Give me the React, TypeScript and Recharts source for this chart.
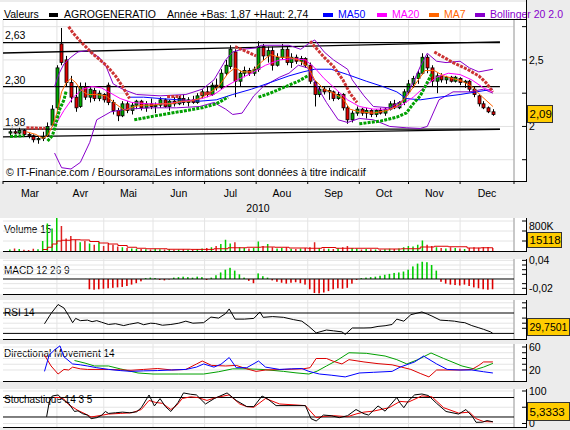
import { ComposedChart, Line, Bar, XAxis, YAxis, ReferenceLine, CartesianGrid } from "recharts"

// x axis = trading day index, 0 = 1 March 2010, 218 = 1 January 2011
const MONTHS = ["Mar", "Avr", "Mai", "Jun", "Jul", "Aou", "Sep", "Oct", "Nov", "Dec"]
const MONTH_STARTS = [0, 23, 43, 64, 86, 108, 130, 152, 173, 195, 218]
const MONTH_MIDS = MONTHS.map((_, i) => (MONTH_STARTS[i] + MONTH_STARTS[i + 1]) / 2)
const X_DOMAIN: [number, number] = [0, 218]

// one candle every second trading day, starting at day 3: [open, high, low, close]
const CANDLE_START = 3
const CANDLES = [
  [1.95, 1.98, 1.93, 1.96], [1.96, 1.98, 1.94, 1.95], [1.95, 1.99, 1.94, 1.97], [1.97, 1.98, 1.93, 1.94], [1.94, 1.95, 1.91, 1.93],
  [1.93, 1.94, 1.88, 1.9], [1.9, 1.92, 1.87, 1.91], [1.91, 1.96, 1.89, 1.92], [1.93, 2.03, 1.92, 2.0], [2.01, 2.16, 2.0, 2.13],
  [2.14, 2.46, 2.12, 2.44], [2.62, 2.74, 2.46, 2.48], [2.5, 2.53, 2.3, 2.33], [2.33, 2.38, 2.18, 2.22], [2.22, 2.3, 2.11, 2.14],
  [2.15, 2.33, 2.14, 2.3], [2.3, 2.33, 2.2, 2.22], [2.22, 2.3, 2.18, 2.28], [2.27, 2.29, 2.19, 2.21], [2.21, 2.27, 2.19, 2.25],
  [2.24, 2.25, 2.18, 2.2], [2.31, 2.33, 2.16, 2.18], [2.18, 2.2, 2.09, 2.12], [2.12, 2.14, 2.04, 2.08], [2.08, 2.19, 2.07, 2.17],
  [2.17, 2.19, 2.1, 2.12], [2.12, 2.18, 2.09, 2.16], [2.16, 2.2, 2.13, 2.19], [2.19, 2.2, 2.12, 2.14], [2.14, 2.19, 2.11, 2.17],
  [2.17, 2.21, 2.13, 2.15], [2.15, 2.18, 2.1, 2.16], [2.16, 2.22, 2.14, 2.2], [2.2, 2.21, 2.14, 2.15], [2.15, 2.2, 2.12, 2.19],
  [2.19, 2.22, 2.15, 2.17], [2.17, 2.23, 2.16, 2.21], [2.21, 2.24, 2.16, 2.18], [2.18, 2.22, 2.15, 2.2], [2.2, 2.23, 2.17, 2.18],
  [2.18, 2.25, 2.17, 2.23], [2.23, 2.28, 2.21, 2.26], [2.26, 2.3, 2.22, 2.24], [2.24, 2.33, 2.23, 2.31], [2.31, 2.36, 2.27, 2.29],
  [2.29, 2.43, 2.28, 2.4], [2.4, 2.5, 2.38, 2.46], [2.45, 2.61, 2.43, 2.58], [2.56, 2.58, 2.22, 2.34], [2.34, 2.42, 2.3, 2.4],
  [2.4, 2.45, 2.37, 2.42], [2.42, 2.44, 2.38, 2.4], [2.4, 2.45, 2.38, 2.43], [2.43, 2.64, 2.41, 2.6], [2.6, 2.62, 2.5, 2.53],
  [2.53, 2.6, 2.48, 2.57], [2.57, 2.6, 2.42, 2.46], [2.46, 2.55, 2.45, 2.52], [2.52, 2.62, 2.5, 2.58], [2.58, 2.6, 2.46, 2.48],
  [2.48, 2.55, 2.44, 2.52], [2.52, 2.54, 2.47, 2.49], [2.49, 2.53, 2.46, 2.51], [2.51, 2.52, 2.44, 2.46], [2.46, 2.48, 2.32, 2.34],
  [2.33, 2.34, 2.15, 2.24], [2.24, 2.3, 2.22, 2.28], [2.28, 2.3, 2.24, 2.26], [2.26, 2.29, 2.2, 2.27], [2.26, 2.27, 2.19, 2.21],
  [2.21, 2.26, 2.2, 2.24], [2.24, 2.25, 2.12, 2.14], [2.14, 2.16, 2.02, 2.05], [2.05, 2.12, 2.03, 2.1], [2.1, 2.15, 2.08, 2.13],
  [2.13, 2.14, 2.08, 2.1], [2.1, 2.14, 2.06, 2.12], [2.12, 2.13, 2.07, 2.09], [2.09, 2.13, 2.07, 2.12], [2.12, 2.14, 2.09, 2.1],
  [2.1, 2.14, 2.08, 2.13], [2.13, 2.19, 2.12, 2.17], [2.17, 2.2, 2.13, 2.14], [2.14, 2.19, 2.13, 2.18], [2.18, 2.28, 2.16, 2.26],
  [2.26, 2.35, 2.24, 2.32], [2.32, 2.38, 2.29, 2.36], [2.36, 2.42, 2.32, 2.4], [2.4, 2.55, 2.39, 2.52], [2.52, 2.54, 2.4, 2.44],
  [2.44, 2.46, 2.3, 2.34], [2.34, 2.4, 2.25, 2.38], [2.38, 2.4, 2.33, 2.35], [2.35, 2.38, 2.32, 2.37], [2.37, 2.38, 2.33, 2.34],
  [2.34, 2.38, 2.33, 2.37], [2.36, 2.37, 2.31, 2.33], [2.33, 2.35, 2.29, 2.34], [2.34, 2.35, 2.26, 2.28], [2.28, 2.3, 2.22, 2.24],
  [2.23, 2.24, 2.15, 2.17], [2.17, 2.19, 2.13, 2.14], [2.14, 2.15, 2.1, 2.11], [2.11, 2.13, 2.08, 2.09],
]

// volume in thousands, same days as the candles
const VOLUME = [
  60, 100, 80, 50, 40, 90, 70, 400, 1100, 900,
  1500, 1000, 500, 600, 450, 350, 400, 300, 250, 350,
  200, 300, 250, 180, 150, 120, 100, 90, 80, 70,
  60, 90, 70, 60, 80, 50, 60, 70, 60, 50,
  80, 100, 120, 150, 200, 280, 450, 300, 350, 150,
  120, 100, 120, 380, 200, 280, 150, 100, 120, 150,
  90, 80, 100, 120, 150, 350, 120, 100, 90, 80,
  120, 150, 200, 120, 100, 60, 80, 70, 60, 50,
  70, 90, 80, 100, 150, 200, 180, 250, 420, 250,
  200, 150, 120, 100, 150, 120, 100, 80, 120, 150,
  130, 150, 160, 120,
]
const VOLUME_MA15 = [
  [17, 60], [19, 150], [21, 280], [23, 400], [25, 430], [29, 450], [33, 440], [37, 380], [41, 320], [45, 280],
  [49, 220], [53, 150], [57, 110], [61, 90], [70, 70], [80, 65], [90, 90], [96, 130], [104, 150], [110, 160],
  [116, 150], [122, 120], [130, 110], [136, 140], [142, 110], [150, 110], [160, 80], [170, 90], [178, 160],
  [184, 190], [190, 170], [198, 120], [204, 130], [209, 130],
]

const MA7 = [
  [10, 1.96], [14, 1.94], [17, 1.91], [19, 1.93], [21, 2.0], [23, 2.1], [25, 2.26], [27, 2.33], [29, 2.36], [31, 2.33],
  [33, 2.28], [36, 2.24], [40, 2.24], [44, 2.23], [48, 2.17], [52, 2.12], [56, 2.15], [60, 2.16], [64, 2.16], [68, 2.17],
  [72, 2.17], [76, 2.19], [80, 2.19], [84, 2.21], [88, 2.25], [92, 2.3], [96, 2.4], [99, 2.44], [102, 2.41], [106, 2.41],
  [110, 2.48], [114, 2.54], [118, 2.52], [122, 2.52], [126, 2.5], [130, 2.45], [133, 2.35], [137, 2.28], [141, 2.25],
  [145, 2.21], [148, 2.13], [152, 2.11], [158, 2.1], [164, 2.12], [168, 2.15], [172, 2.22], [176, 2.32], [180, 2.42],
  [184, 2.42], [188, 2.38], [192, 2.36], [196, 2.34], [200, 2.3], [204, 2.23], [209, 2.15],
]
const MA20 = [
  [22, 2.0], [26, 2.12], [30, 2.22], [34, 2.28], [38, 2.3], [42, 2.29], [46, 2.25], [50, 2.21], [55, 2.18], [62, 2.17],
  [70, 2.17], [78, 2.19], [85, 2.21], [90, 2.24], [95, 2.3], [100, 2.35], [106, 2.4], [112, 2.46], [118, 2.5], [124, 2.51],
  [129, 2.5], [133, 2.44], [137, 2.36], [142, 2.28], [147, 2.2], [152, 2.15], [158, 2.13], [165, 2.13], [170, 2.16],
  [175, 2.22], [180, 2.3], [185, 2.37], [190, 2.4], [195, 2.39], [200, 2.35], [205, 2.29], [209, 2.26],
]
const MA50 = [
  [54, 2.22], [60, 2.22], [67, 2.21], [75, 2.2], [84, 2.19], [91, 2.2], [98, 2.24], [106, 2.28], [114, 2.33], [122, 2.38],
  [128, 2.41], [133, 2.43], [140, 2.43], [147, 2.39], [155, 2.34], [162, 2.3], [168, 2.26], [172, 2.21], [178, 2.2],
  [186, 2.22], [195, 2.24], [202, 2.26], [209, 2.28],
]
const BB_UPPER = [
  [22, 2.3], [24, 2.4], [26, 2.47], [29, 2.52], [32, 2.56], [36, 2.57], [41, 2.52], [44, 2.45], [47, 2.32], [51, 2.28],
  [57, 2.24], [67, 2.23], [78, 2.24], [85, 2.28], [90, 2.35], [95, 2.5], [98, 2.56], [102, 2.58], [108, 2.59], [110, 2.61],
  [122, 2.61], [127, 2.58], [131, 2.63], [133, 2.65], [137, 2.56], [141, 2.5], [147, 2.43], [149, 2.35], [154, 2.23],
  [158, 2.15], [165, 2.14], [171, 2.2], [175, 2.33], [178, 2.45], [181, 2.55], [185, 2.49], [189, 2.48], [195, 2.49],
  [199, 2.44], [203, 2.41], [209, 2.43],
]
const BB_LOWER = [
  [22, 1.8], [25, 1.69], [29, 1.68], [33, 1.73], [37, 1.88], [40, 2.05], [46, 2.11], [53, 2.13], [63, 2.14], [74, 2.14],
  [84, 2.15], [90, 2.18], [95, 2.13], [98, 2.09], [102, 2.1], [107, 2.23], [111, 2.3], [118, 2.37], [122, 2.4], [126, 2.46],
  [130, 2.44], [134, 2.3], [138, 2.18], [143, 2.05], [147, 2.03], [152, 2.06], [158, 2.05], [165, 2.0], [172, 1.99],
  [178, 1.985], [181, 2.0], [186, 2.2], [192, 2.26], [199, 2.26], [205, 2.28], [209, 2.25],
]
// parabolic SAR runs, up = dots below price (green)
const SAR_RUNS = [
  { up: true, pts: [[3, 1.925], [9, 1.93]] },
  { up: false, pts: [[10, 1.99], [18, 1.985]] },
  { up: true, pts: [[19, 1.89], [21, 1.93], [22, 1.98], [24, 2.12], [26, 2.2], [27, 2.27]] },
  { up: false, pts: [[28, 2.75], [30, 2.7], [33, 2.64], [38, 2.55], [44, 2.46], [48, 2.38], [51, 2.3], [54, 2.21]] },
  { up: true, pts: [[56, 2.05], [65, 2.08], [75, 2.11], [85, 2.14], [91, 2.17], [96, 2.22]] },
  { up: false, pts: [[70, 2.225], [76, 2.225]] },
  { up: false, pts: [[84, 2.245], [89, 2.25]] },
  { up: false, pts: [[99, 2.6], [103, 2.57], [108, 2.53]] },
  { up: true, pts: [[109, 2.22], [114, 2.25], [118, 2.28], [122, 2.31], [126, 2.34], [130, 2.38]] },
  { up: false, pts: [[131, 2.64], [134, 2.58], [137, 2.52], [141, 2.45], [145, 2.35], [148, 2.25], [151, 2.18]] },
  { up: true, pts: [[152, 2.02], [161, 2.04], [168, 2.07], [172, 2.1], [175, 2.17], [178, 2.23], [181, 2.33], [183, 2.4]] },
  { up: false, pts: [[184, 2.56], [192, 2.48], [198, 2.43], [203, 2.38], [206, 2.33], [209, 2.26]] },
]
// support / resistance lines: [day1, price1, day2, price2]
const TREND_LINES = [
  [0, 2.63, 212, 2.63],
  [0, 2.552, 212, 2.635],
  [0, 2.3, 212, 2.3],
  [0, 1.98, 212, 1.98],
  [0, 1.921, 212, 1.978],
]
const PRICE_TICKS = [1.75, 2, 2.25, 2.5, 2.75]

// MACD histogram, every second day from day 37
const MACD_START = 37
const MACD_HIST = [
  -0.022, -0.023, -0.022, -0.021, -0.02, -0.019, -0.018, -0.017, -0.015, -0.012,
  -0.009, -0.005, 0.002, 0.003, 0.002, -0.002, -0.003, -0.001, 0.003, 0.004,
  0.005, 0.004, 0.003, 0.005, 0.004, -0.002, 0.003, 0.008, 0.014, 0.02,
  0.024, 0.018, 0.01, 0.003, -0.004, -0.009, 0.012, 0.006, 0.003, -0.003,
  -0.006, -0.008, -0.01, -0.008, -0.007, -0.009, -0.012, -0.022, -0.03, -0.031,
  -0.029, -0.026, -0.022, -0.02, -0.021, -0.019, -0.01, -0.002, 0.002, 0.003,
  0.004, 0.005, 0.007, 0.009, 0.011, 0.013, 0.014, 0.016, 0.02, 0.027,
  0.033, 0.037, 0.036, 0.03, 0.018, -0.006, -0.01, -0.012, -0.013, -0.014,
  -0.012, -0.015, -0.018, -0.02, -0.022, -0.023, -0.022,
]

const RSI = [
  [17.7, 48.8], [20.5, 69], [23.5, 86.6], [26, 79.8], [28, 65], [29.7, 51], [31, 59.4], [33, 55], [36, 56], [38, 53],
  [40, 55], [42, 52], [45, 47.5], [48, 49], [51.5, 45.3], [54, 48], [57.6, 51], [60, 47], [63, 50], [65, 49.4],
  [68, 46], [71.6, 47.5], [75, 50], [78, 54], [81, 50], [85.6, 51], [88.7, 62], [92, 60], [95, 69], [96.5, 78],
  [99, 58], [103, 58], [107, 59.4], [109.6, 72], [111, 61.5], [115, 63], [119.7, 61.5], [124, 57], [127.5, 54],
  [130.5, 43.7], [133.6, 31], [138, 36.6], [141, 35], [144.6, 33], [146, 28], [149, 40.6], [154, 40.6], [157, 41],
  [160, 43.7], [163, 45], [166, 47.5], [168, 58], [171, 54], [174, 66.7], [178.7, 72], [181, 68], [183, 64],
  [186.5, 56], [190, 55], [192.6, 54], [195, 52], [197, 51], [200, 45.3], [203, 41], [205, 38], [208, 33], [209, 29.75],
]
const DI_PLUS = [
  [17.7, 17.6], [19.7, 46], [22, 55], [24.3, 62], [26, 43], [29.7, 30.5], [33, 29], [36, 27], [40, 24], [45, 21],
  [50, 19], [54.6, 17.6], [60, 18.5], [66, 19], [72, 20], [78, 21], [82.5, 25], [85.6, 30.5], [90, 25], [93, 30],
  [96.5, 41.7], [99.5, 24], [104, 24], [109, 35.6], [112, 25], [118, 21], [123, 22], [127.5, 22.6], [130.5, 17.6],
  [135, 13], [140, 11], [146, 8], [152, 14.8], [158, 16], [166, 17.6], [169.4, 25], [175.6, 34], [179.4, 44.3],
  [185, 30.5], [189.5, 21], [195, 20], [200, 20], [205, 17], [209, 14.8],
]
const DI_MINUS = [
  [17.7, 46], [20.5, 27], [23.5, 13], [26, 21], [28, 20], [29.7, 25], [33, 22], [36, 21], [45, 21], [54.6, 19.5],
  [60, 21], [66, 22.6], [72, 20], [78, 21], [82.6, 30.5], [85, 35.6], [89, 28], [95, 27], [99.5, 28], [104, 22],
  [108, 17.6], [112, 20], [120, 21], [128, 22], [131, 24], [133.6, 40], [138, 40], [141, 35], [144.6, 30.5],
  [147.6, 38], [154, 34], [160, 31], [166, 29], [170, 25], [174, 21], [178, 14], [181.7, 8], [185, 20], [195, 20],
  [200, 21], [203, 28], [205, 34], [209, 34],
]
const ADX = [
  [30.5, 36.5], [35, 32], [39, 27], [45, 27], [50, 22], [57.6, 14.8], [64, 13], [75, 13], [85.6, 13], [92, 17],
  [98, 22], [104, 22], [110.5, 21], [119.7, 17.6], [125, 15], [130.5, 13], [134, 18], [138, 27], [143, 38],
  [147.6, 50], [155, 49], [163, 44.3], [168, 38], [172.3, 30.5], [177, 38], [182.6, 49.6], [188, 40], [195.8, 27],
  [201.8, 21], [205, 25], [209, 31.5],
]
const STOCH_K = [
  [18.6, 20.6], [19.7, 65], [21, 84.6], [23.5, 87.7], [26, 70.8], [28, 62], [30.5, 37], [32, 39], [34, 30], [36, 26],
  [37.6, 15], [40, 18], [42, 25], [43.7, 37], [45, 31], [48, 33], [51, 35], [54, 33], [57, 36], [59, 48.6],
  [62.3, 87.7], [64.6, 54], [67, 76.6], [69.3, 52], [71.6, 37], [74.7, 65], [77, 94], [80, 90], [82.5, 88],
  [86.4, 60], [90.2, 77], [95.6, 94], [99.5, 71], [104, 52], [107, 52], [110.5, 84.6], [113, 75], [116.5, 55],
  [122, 55], [129, 55], [131.4, 15], [133.6, 7.7], [136.7, 26], [140, 24], [143.5, 18], [147, 24], [150.6, 43],
  [154, 30], [156, 26], [160, 54], [163, 38], [168, 80], [169.5, 62], [171, 48.6], [173, 70], [175.6, 88],
  [178.7, 90.8], [181.5, 86], [185, 62], [189, 37], [194.4, 29], [197.5, 43], [200.4, 20], [201.8, 3.7],
  [204.5, 4], [206.5, 9], [209, 5.33],
]
const STOCH_D = [
  [22, 80], [24, 80], [26, 75], [28, 58], [32, 40], [35, 30], [37.6, 20], [41, 24], [45, 29], [50, 31], [55, 33],
  [59, 43], [62.3, 71], [65, 65], [68, 62], [71.6, 43], [74, 55], [76.5, 77], [80, 82], [83, 80], [87, 71], [91, 80],
  [96.5, 88], [101, 60], [104, 52], [107, 50], [112, 77], [118, 60], [125, 57], [129, 55], [133.6, 18], [137, 22],
  [141, 24], [147, 21], [151, 30], [154, 35], [158, 38], [164.7, 48.6], [169.4, 68], [173, 66], [178.7, 85],
  [183, 82], [188, 48.6], [194.4, 32], [199, 35], [201.8, 15], [205, 6], [209, 5],
]

const FONT = '"Liberation Sans", Arial, sans-serif'
const BG = "#ececec"
const UP = "#00a800"
const DOWN = "#e00000"
const PAD = 6

type Row = { d: number; [k: string]: any }

function buildTable(series: Record<string, any[][]>): Row[] {
  const rows = new Map<number, Row>()
  for (const [key, pts] of Object.entries(series)) {
    for (const [d, v] of pts) {
      const r = rows.get(d) ?? { d }
      r[key] = v
      rows.set(d, r)
    }
  }
  return [...rows.values()].sort((a, b) => a.d - b.d)
}

const candleDay = (i: number) => CANDLE_START + 2 * i

const mainSeries: Record<string, any[][]> = {
  ohlc: CANDLES.map((c, i) => [candleDay(i), c]),
  ma7: MA7,
  ma20: MA20,
  ma50: MA50,
  bbU: BB_UPPER,
  bbL: BB_LOWER,
}
SAR_RUNS.forEach((run, i) => (mainSeries["sar" + i] = run.pts))
const mainData = buildTable(mainSeries)

const volData = buildTable({
  v: VOLUME.map((v, i) => [candleDay(i), v]),
  up: CANDLES.map((c, i) => [candleDay(i), c[3] >= c[0]]),
  ma: VOLUME_MA15,
})
const macdData = buildTable({ m: MACD_HIST.map((m, i) => [MACD_START + 2 * i, m]) })
const rsiData = buildTable({ rsi: RSI })
const dmData = buildTable({ plus: DI_PLUS, minus: DI_MINUS, adx: ADX })
const stochData = buildTable({ k: STOCH_K, dd: STOCH_D })

function Candle(props: any) {
  const { x, y, width, height, payload } = props
  if (!payload?.ohlc || !Number.isFinite(y) || !Number.isFinite(height)) return <g />
  const [o, h, l, c] = payload.ohlc
  const top = Math.min(y, y + height)
  const len = Math.abs(height)
  const k = len / (h - l)
  const cx = Math.round(x + width / 2) + 0.5
  const bodyTop = top + (h - Math.max(o, c)) * k
  const bodyH = Math.max(Math.abs(o - c) * k, 1)
  return (
    <g>
      <line x1={cx} x2={cx} y1={top} y2={top + len} stroke="#000" />
      <rect x={cx - 1.5} y={bodyTop} width={3} height={bodyH} fill={c >= o ? UP : DOWN} stroke="#000" strokeWidth={0.8} />
    </g>
  )
}

function VolBar(props: any) {
  const { x, y, width, height, payload } = props
  if (payload?.v == null || !Number.isFinite(height)) return <g />
  return (
    <rect x={x + width / 2 - 0.75} y={Math.min(y, y + height)} width={1.5} height={Math.abs(height)}
      fill={payload.up ? "#00cc00" : "#dd2222"} />
  )
}

function MacdBar(props: any) {
  const { x, y, width, height, payload } = props
  if (payload?.m == null || !Number.isFinite(height)) return <g />
  return (
    <rect x={x + width / 2 - 0.8} y={Math.min(y, y + height)} width={1.6} height={Math.abs(height)}
      fill={payload.m >= 0 ? "#00cc00" : "#dd0000"} />
  )
}

// labels: tick value -> [text, baseline offset]
const sideTick = (labels: Record<string, string>, lift: Record<string, number> = {}) => (p: any) => {
  const key = String(p.payload.value)
  const label = labels[key]
  return (
    <g>
      <line x1={p.x + 8} x2={p.x + 12} y1={p.y} y2={p.y} stroke="#000" />
      {label && (
        <text x={p.x + 15} y={p.y + 4 - (lift[key] ?? 0)} fontSize={10.5} fill="#000" fontFamily={FONT}>{label}</text>
      )}
    </g>
  )
}

const monthTick = (p: any) => {
  const v = p.payload.value
  if (MONTH_STARTS.includes(v)) {
    return <line x1={p.x} x2={p.x} y1={p.y} y2={p.y + 3} stroke="#000" />
  }
  const m = MONTH_MIDS.indexOf(v)
  return (
    <text x={p.x} y={p.y + 15.5} textAnchor="middle" fontSize={10.5} fill="#000" fontFamily={FONT}>{MONTHS[m]}</text>
  )
}

function line(key: string, color: string, extra: any = {}) {
  return (
    <Line key={key} dataKey={key} stroke={color} strokeWidth={1} dot={false} activeDot={false}
      connectNulls isAnimationActive={false} type="linear" {...extra} />
  )
}

function Panel(props: {
  top: number; height: number; data: Row[]; domain: [number, number]; ticks: number[];
  tick: any; children: any
}) {
  const { top, height, data, domain, ticks, tick, children } = props
  return (
    <div style={{ position: "absolute", left: 0, top: top - PAD }}>
      <ComposedChart width={570} height={height + 2 * PAD} data={data}
        margin={{ top: PAD, right: 0, bottom: PAD, left: 3 }}>
        <CartesianGrid stroke="#e4e4e4" verticalValues={MONTH_STARTS} horizontalValues={ticks} />
        <XAxis dataKey="d" type="number" domain={X_DOMAIN} ticks={MONTH_STARTS} hide allowDataOverflow />
        <YAxis orientation="right" width={56} domain={domain} ticks={ticks} interval={0} allowDataOverflow
          axisLine={false} tickLine={false} tickSize={0} tickMargin={0} tick={tick} />
        <ReferenceLine x={218} stroke="#a0a0a0" />
        {children}
      </ComposedChart>
    </div>
  )
}

// white panel areas: [top, bottom]
const PANELS = [[2, 181], [218, 251], [259, 294], [300, 339], [344, 381], [389, 427]]

const VALUE_BOXES = [
  { x: 527, y: 105, w: 25, h: 17, text: "2,09" },
  { x: 527, y: 232, w: 34, h: 15, text: "15118" },
  { x: 527, y: 318, w: 42, h: 17, text: "29,7501" },
  { x: 527, y: 402, w: 42, h: 18, text: "5,3333" },
]

export default function App() {
  const allTicks = [...MONTH_STARTS, ...MONTH_MIDS].sort((a, b) => a - b)
  return (
    <div style={{ position: "absolute", left: 0, top: 0, width: 570, height: 430, background: BG, overflow: "hidden", fontFamily: FONT }}>
      <svg width={570} height={430} style={{ position: "absolute", left: 0, top: 0 }} fontFamily={FONT}>
        {PANELS.map(([t, b], i) => (
          <rect key={i} x={0} y={t} width={526} height={b - t} fill="#fff" />
        ))}
        <g fontSize={10.5} fill="#000">
          <text x={4} y={17.5}>Valeurs</text>
          <rect x={49} y={13} width={9} height={4} fill="#000" />
          <text x={64} y={17.5}>AGROGENERATIO</text>
          <text x={167} y={17.5}>Année +Bas: 1,87 +Haut: 2,74</text>
          <rect x={323} y={13} width={10} height={4} fill="#0000ff" />
          <text x={338} y={17.5} fill="#0000ff">MA50</text>
          <rect x={377} y={13} width={10} height={4} fill="#ff00ff" />
          <text x={392} y={17.5} fill="#ff00ff">MA20</text>
          <rect x={429} y={13} width={10} height={4} fill="#ff6600" />
          <text x={444} y={17.5} fill="#ff6600">MA7</text>
          <rect x={475} y={13} width={10} height={4} fill="#8800cc" />
          <text x={490} y={17.5} fill="#8800cc">Bollinger 20 2.0</text>
          <text x={5} y={39}>2,63</text>
          <text x={5} y={83.5}>2,30</text>
          <text x={5} y={125.5}>1,98</text>
          <text x={6} y={176}>© IT-Finance.com / BoursoramaLes informations sont données à titre indicatif</text>
          <text x={258} y={212} textAnchor="middle">2010</text>
        </g>
        <g fontSize={10} fill="#000">
          <text x={4} y={233}>Volume 15</text>
          <text x={4} y={274}>MACD 12 26 9</text>
          <text x={4} y={316}>RSI 14</text>
          <text x={4} y={357}>Directional Movement 14</text>
          <text x={4} y={402.5}>Stochastique 14 3 5</text>
        </g>
      </svg>

      <div style={{ position: "absolute", left: 0, top: 20 - PAD }}>
        <ComposedChart width={570} height={161 + 35 + PAD} data={mainData}
          margin={{ top: PAD, right: 0, bottom: 0, left: 3 }}>
          <CartesianGrid stroke="#e2e2e2" verticalValues={MONTH_STARTS} horizontalValues={PRICE_TICKS} />
          <XAxis dataKey="d" type="number" domain={X_DOMAIN} ticks={allTicks} interval={0} height={35}
            axisLine={false} tickLine={false} tickSize={0} tickMargin={0} tick={monthTick} allowDataOverflow />
          <YAxis orientation="right" width={56} domain={[1.59, 2.8]} ticks={PRICE_TICKS} interval={0}
            allowDataOverflow axisLine={false} tickLine={false} tickSize={0} tickMargin={0}
            tick={sideTick({ "2": "2", "2.5": "2,5" })} />
          <ReferenceLine x={218} stroke="#a0a0a0" />
          {TREND_LINES.map(([a, p, b, q], i) => (
            <ReferenceLine key={"t" + i} segment={[{ x: a, y: p }, { x: b, y: q }]} stroke="#000" strokeWidth={1.3} />
          ))}
          <Bar dataKey={(r: any) => (r.ohlc ? [r.ohlc[2], r.ohlc[1]] : null)} barSize={3}
            shape={Candle} isAnimationActive={false} />
          {line("bbU", "#8800cc")}
          {line("bbL", "#8800cc")}
          {line("ma50", "#0000ff")}
          {line("ma20", "#ff00ff")}
          {line("ma7", "#ff6600")}
          {SAR_RUNS.map((run, i) =>
            line("sar" + i, run.up ? "#00a000" : "#cc3333", { strokeWidth: 3, strokeDasharray: "3 1.2" })
          )}
        </ComposedChart>
      </div>

      <Panel top={218} height={33} data={volData} domain={[0, 1320]} ticks={[400, 800, 1200]}
        tick={sideTick({ "800": "800K" }, { "800": 5 })}>
        <Bar dataKey="v" barSize={2} shape={VolBar} isAnimationActive={false} />
        {line("ma", "#dd0000", { type: "stepAfter" })}
      </Panel>

      <Panel top={259} height={35} data={macdData} domain={[-0.0322, 0.0429]}
        ticks={[0.04, 0.03, 0.02, 0.01, -0.01, -0.02]} tick={sideTick({ "0.04": "0,04", "-0.02": "-0,02" })}>
        <ReferenceLine y={0} stroke="#000" />
        <Bar dataKey="m" barSize={2} shape={MacdBar} isAnimationActive={false} />
      </Panel>

      <Panel top={300} height={39} data={rsiData} domain={[19, 95.5]} ticks={[90, 80, 60, 50, 40]} tick={sideTick({})}>
        <ReferenceLine y={70} stroke="#000" />
        <ReferenceLine y={30} stroke="#000" />
        {line("rsi", "#000")}
      </Panel>

      <Panel top={344} height={37} data={dmData} domain={[0.87, 65.2]} ticks={[60, 50, 40, 30, 20]}
        tick={sideTick({ "60": "60", "20": "20" })}>
        {line("adx", "#00a000")}
        {line("minus", "#dd0000")}
        {line("plus", "#0000ff")}
      </Panel>

      <Panel top={389} height={38} data={stochData} domain={[-10.77, 106.15]} ticks={[100, 50, 0]}
        tick={sideTick({ "100": "100", "0": "0" })}>
        <ReferenceLine y={80} stroke="#000" />
        <ReferenceLine y={20} stroke="#000" />
        {line("dd", "#ee0000")}
        {line("k", "#000")}
      </Panel>

      <svg width={570} height={430} style={{ position: "absolute", left: 0, top: 0, pointerEvents: "none" }} fontFamily={FONT}>
        <line x1={3} x2={526} y1={19.5} y2={19.5} stroke="#000" />
        {PANELS.map(([t, b], i) => (
          <g key={i}>
            <line x1={3} x2={527} y1={b + 0.5} y2={b + 0.5} stroke="#000" />
            <line x1={526.5} x2={526.5} y1={i === 0 ? 0 : t} y2={b + 1} stroke="#000" />
          </g>
        ))}
        {VALUE_BOXES.map((b, i) => (
          <g key={"b" + i}>
            <rect x={b.x + 0.5} y={b.y + 0.5} width={b.w} height={b.h} fill="#ffcc00" stroke="#333" />
            <text x={b.x + 2.5} y={b.y + b.h / 2 + 4.5} fontSize={b.text.length > 6 ? 10.5 : 11.5} fill="#000">{b.text}</text>
          </g>
        ))}
      </svg>
    </div>
  )
}
